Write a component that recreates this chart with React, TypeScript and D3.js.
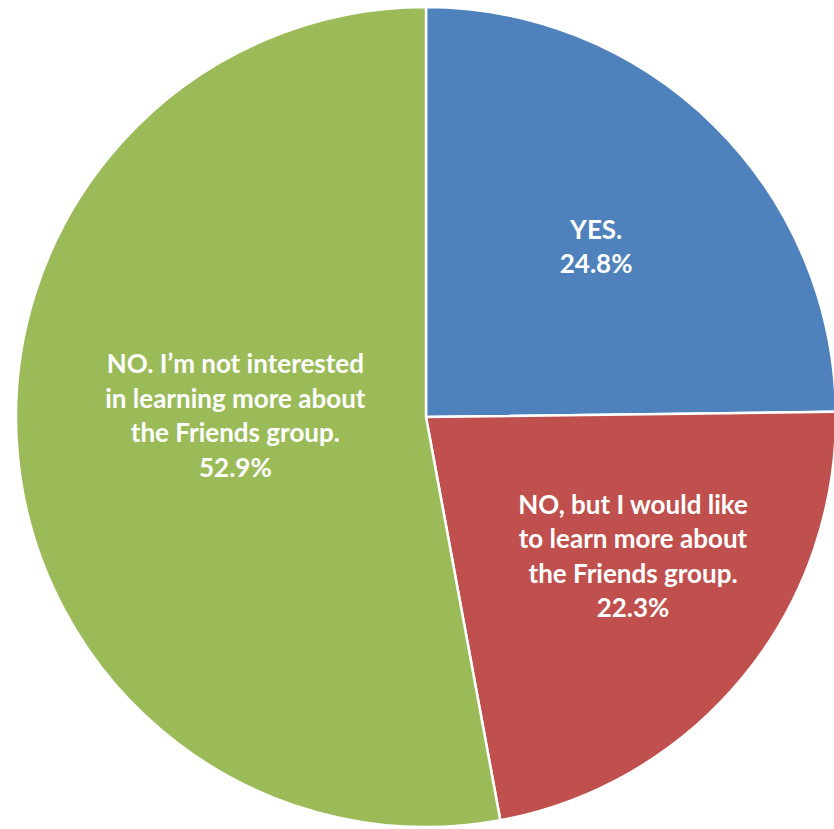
import React from "react";
import * as d3 from "d3";

const categories = [
  "YES.",
  "NO, but I would like to learn more about the Friends group.",
  "NO. I’m not interested in learning more about the Friends group.",
];
const values = [24.8, 22.3, 52.9];
const labelLines = [
  ["YES.", "24.8%"],
  ["NO, but I would like", "to learn more about", "the Friends group.", "22.3%"],
  ["NO. I’m not interested", "in learning more about", "the Friends group.", "52.9%"],
];
const colors = ["#4F81BD", "#C0504D", "#9BBB59"];
// label anchor as fraction of radius (x, y) from centre
const labelAnchors = [
  [0.415, -0.415],
  [0.505, 0.34],
  [-0.465, -0.003],
];

export default function App() {
  const W = 834;
  const H = 829;
  const cx = 426;
  const cy = 417;
  const r = 410;
  const pie = d3.pie<number>().sort(null).value((d) => d);
  const arcs = pie(values);
  const arc = d3.arc<d3.PieArcDatum<number>>().innerRadius(0).outerRadius(r);
  const fs = 26;
  const lh = 34.5;
  return (
    <svg
      width={W}
      height={H}
      style={{ position: "absolute", left: 0, top: 0, background: "#fff" }}
    >
      <g transform={`translate(${cx},${cy})`}>
        {arcs.map((a, i) => (
          <path
            key={categories[i]}
            d={arc(a) || ""}
            fill={colors[i]}
            stroke="#fff"
            strokeWidth={2.5}
            strokeLinejoin="round"
          />
        ))}
        {arcs.map((a, i) => {
          const lines = labelLines[i];
          const x = labelAnchors[i][0] * r;
          const y = labelAnchors[i][1] * r;
          const y0 = y - ((lines.length - 1) * lh) / 2;
          return (
            <text
              key={"l" + i}
              x={x}
              textAnchor="middle"
              fill="#fff"
              fontFamily="Lato, 'Open Sans', sans-serif"
              fontWeight="bold"
              fontSize={fs}
            >
              {lines.map((t, j) => (
                <tspan key={j} x={x} y={y0 + j * lh} dy="0.35em">
                  {t}
                </tspan>
              ))}
            </text>
          );
        })}
      </g>
    </svg>
  );
}
